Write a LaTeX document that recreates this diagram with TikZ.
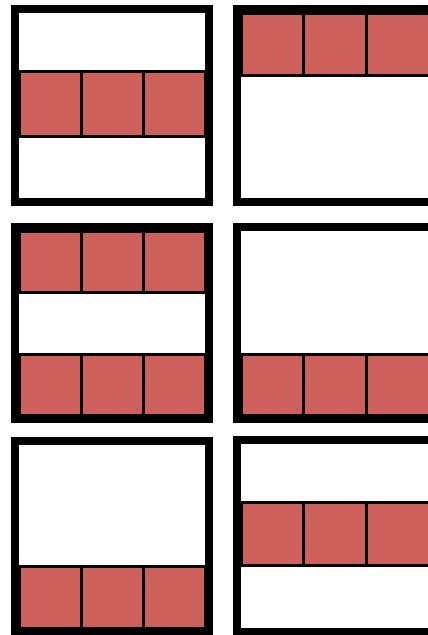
\documentclass[tikz,border=0pt]{standalone}
\definecolor{cellred}{RGB}{206,96,91}
\tikzset{
  framefill/.style={fill=white},
  frameline/.style={draw=black,line width=8pt},
  cellbox/.style={draw=black,line width=3pt,fill=cellred}
}
\newcommand\cellrow[4]{%
  \pgfmathsetmacro\cw{(#2-#1)/3}%
  \foreach \i in {0,1,2}{%
    \draw[cellbox] ({#1+\i*\cw},#3) rectangle ({#1+(\i+1)*\cw},#4);
  }%
}
\newcommand\panel[4]{% x0 y0 x1 y1 (frame centre line)
  \fill[framefill] (#1,#2) rectangle (#3,#4);
}
\newcommand\panelborder[4]{%
  \draw[frameline] (#1,#2) rectangle (#3,#4);
}
\begin{document}
\begin{tikzpicture}[x=1pt,y=-1pt]
\useasboundingbox (0,0) rectangle (428,635);
\clip (0,0) rectangle (428,635);
\fill[white] (0,0) rectangle (428,635);
% row 1
\panel{15}{9}{209}{202}
\cellrow{19}{205}{71}{136}
\panelborder{15}{9}{209}{202}
\panel{237}{9}{433}{202}
\cellrow{241}{429}{13}{75}
\panelborder{237}{9}{433}{202}
% row 2
\panel{15}{227}{209}{419}
\cellrow{19}{205}{231}{292}
\cellrow{19}{205}{354}{415}
\panelborder{15}{227}{209}{419}
\panel{237}{227}{433}{419}
\cellrow{241}{429}{354}{415}
\panelborder{237}{227}{433}{419}
% row 3
\panel{15}{441}{209}{632}
\cellrow{19}{205}{566}{628}
\panelborder{15}{441}{209}{632}
\panel{237}{440}{433}{632}
\cellrow{241}{429}{502}{565}
\panelborder{237}{440}{433}{632}
\end{tikzpicture}
\end{document}
